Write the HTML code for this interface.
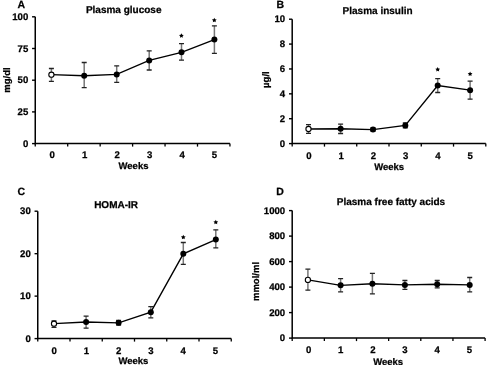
<!DOCTYPE html>
<html><head><meta charset="utf-8"><style>
html,body{margin:0;padding:0;background:#fff;width:487px;height:365px;overflow:hidden}
svg{display:block;will-change:transform}
text{text-rendering:geometricPrecision;font-family:"Liberation Sans", sans-serif;font-weight:bold;fill:#000;stroke:#000;stroke-width:0.25px}
.t{font-size:9.6px}
.w{font-size:9.5px}
.h{font-size:10px}
.l{font-size:10.5px}
.a{font-size:11.5px}
</style></head><body>
<svg width="487" height="365" viewBox="0 0 487 365">
<rect width="487" height="365" fill="#fff"/>
<path d="M35.25 16.8V143.6H229.95" fill="none" stroke="#000" stroke-width="1.5"/>
<line x1="32.05" y1="143.60" x2="35.25" y2="143.60" stroke="#000" stroke-width="1.4"/>
<text x="28.25" y="146.80" text-anchor="end" class="t">0</text>
<line x1="32.05" y1="111.90" x2="35.25" y2="111.90" stroke="#000" stroke-width="1.4"/>
<text x="28.25" y="115.10" text-anchor="end" class="t">25</text>
<line x1="32.05" y1="80.20" x2="35.25" y2="80.20" stroke="#000" stroke-width="1.4"/>
<text x="28.25" y="83.40" text-anchor="end" class="t">50</text>
<line x1="32.05" y1="48.50" x2="35.25" y2="48.50" stroke="#000" stroke-width="1.4"/>
<text x="28.25" y="51.70" text-anchor="end" class="t">75</text>
<line x1="32.05" y1="16.80" x2="35.25" y2="16.80" stroke="#000" stroke-width="1.4"/>
<text x="28.25" y="20.00" text-anchor="end" class="t">100</text>
<line x1="35.25" y1="143.6" x2="35.25" y2="146.6" stroke="#000" stroke-width="1.3"/>
<line x1="67.70" y1="143.6" x2="67.70" y2="146.6" stroke="#000" stroke-width="1.3"/>
<line x1="100.15" y1="143.6" x2="100.15" y2="146.6" stroke="#000" stroke-width="1.3"/>
<line x1="132.60" y1="143.6" x2="132.60" y2="146.6" stroke="#000" stroke-width="1.3"/>
<line x1="165.05" y1="143.6" x2="165.05" y2="146.6" stroke="#000" stroke-width="1.3"/>
<line x1="197.50" y1="143.6" x2="197.50" y2="146.6" stroke="#000" stroke-width="1.3"/>
<line x1="229.95" y1="143.6" x2="229.95" y2="146.6" stroke="#000" stroke-width="1.3"/>
<text x="52.27" y="157.8" text-anchor="middle" class="t">0</text>
<text x="84.72" y="157.8" text-anchor="middle" class="t">1</text>
<text x="117.17" y="157.8" text-anchor="middle" class="t">2</text>
<text x="149.62" y="157.8" text-anchor="middle" class="t">3</text>
<text x="182.07" y="157.8" text-anchor="middle" class="t">4</text>
<text x="214.52" y="157.8" text-anchor="middle" class="t">5</text>
<text x="133.5" y="169" text-anchor="middle" class="w">Weeks</text>
<text x="123.7" y="12.6" text-anchor="middle" class="h">Plasma glucose</text>
<text x="21.3" y="7.8" text-anchor="middle" class="l">A</text>
<text transform="translate(9.6 80) rotate(-90)" x="0" y="0" text-anchor="middle" class="w">mg/dl</text>
<path d="M51.4 68.5V81.3" stroke="#777" stroke-width="1.5"/>
<path d="M48.9 68.5H53.9M48.9 81.3H53.9" stroke="#222" stroke-width="1.3"/>
<path d="M84.2 62.5V87.6" stroke="#777" stroke-width="1.5"/>
<path d="M81.7 62.5H86.7M81.7 87.6H86.7" stroke="#222" stroke-width="1.3"/>
<path d="M116.7 65.8V82.4" stroke="#777" stroke-width="1.5"/>
<path d="M114.2 65.8H119.2M114.2 82.4H119.2" stroke="#222" stroke-width="1.3"/>
<path d="M149.2 50.8V70" stroke="#777" stroke-width="1.5"/>
<path d="M146.7 50.8H151.7M146.7 70H151.7" stroke="#222" stroke-width="1.3"/>
<path d="M181.5 43.7V60.2" stroke="#777" stroke-width="1.5"/>
<path d="M179.0 43.7H184.0M179.0 60.2H184.0" stroke="#222" stroke-width="1.3"/>
<path d="M214.4 25.8V53.4" stroke="#777" stroke-width="1.5"/>
<path d="M211.9 25.8H216.9M211.9 53.4H216.9" stroke="#222" stroke-width="1.3"/>
<path d="M51.4 74.7 L84.2 75.7 L116.7 74.4 L149.2 60.4 L181.5 52.3 L214.4 39.6" fill="none" stroke="#000" stroke-width="1.35"/>
<circle cx="51.4" cy="74.7" r="2.6" fill="#fff" stroke="#000" stroke-width="1.1"/>
<circle cx="84.2" cy="75.7" r="3" fill="#000"/>
<circle cx="116.7" cy="74.4" r="3" fill="#000"/>
<circle cx="149.2" cy="60.4" r="3" fill="#000"/>
<circle cx="181.5" cy="52.3" r="3" fill="#000"/>
<circle cx="214.4" cy="39.6" r="3" fill="#000"/>
<polygon points="181.40,33.30 182.13,34.79 183.78,35.03 182.59,36.19 182.87,37.82 181.40,37.05 179.93,37.82 180.21,36.19 179.02,35.03 180.67,34.79" fill="#000"/>
<polygon points="214.30,17.80 215.03,19.29 216.68,19.53 215.49,20.69 215.77,22.32 214.30,21.55 212.83,22.32 213.11,20.69 211.92,19.53 213.57,19.29" fill="#000"/>
<path d="M292.2 19.2V143.6H485.8" fill="none" stroke="#000" stroke-width="1.5"/>
<line x1="289.0" y1="143.60" x2="292.2" y2="143.60" stroke="#000" stroke-width="1.4"/>
<text x="285.2" y="146.80" text-anchor="end" class="t">0</text>
<line x1="289.0" y1="118.72" x2="292.2" y2="118.72" stroke="#000" stroke-width="1.4"/>
<text x="285.2" y="121.92" text-anchor="end" class="t">2</text>
<line x1="289.0" y1="93.84" x2="292.2" y2="93.84" stroke="#000" stroke-width="1.4"/>
<text x="285.2" y="97.04" text-anchor="end" class="t">4</text>
<line x1="289.0" y1="68.96" x2="292.2" y2="68.96" stroke="#000" stroke-width="1.4"/>
<text x="285.2" y="72.16" text-anchor="end" class="t">6</text>
<line x1="289.0" y1="44.08" x2="292.2" y2="44.08" stroke="#000" stroke-width="1.4"/>
<text x="285.2" y="47.28" text-anchor="end" class="t">8</text>
<line x1="289.0" y1="19.20" x2="292.2" y2="19.20" stroke="#000" stroke-width="1.4"/>
<text x="285.2" y="22.40" text-anchor="end" class="t">10</text>
<line x1="292.20" y1="143.6" x2="292.20" y2="146.6" stroke="#000" stroke-width="1.3"/>
<line x1="324.47" y1="143.6" x2="324.47" y2="146.6" stroke="#000" stroke-width="1.3"/>
<line x1="356.73" y1="143.6" x2="356.73" y2="146.6" stroke="#000" stroke-width="1.3"/>
<line x1="389.00" y1="143.6" x2="389.00" y2="146.6" stroke="#000" stroke-width="1.3"/>
<line x1="421.27" y1="143.6" x2="421.27" y2="146.6" stroke="#000" stroke-width="1.3"/>
<line x1="453.53" y1="143.6" x2="453.53" y2="146.6" stroke="#000" stroke-width="1.3"/>
<line x1="485.80" y1="143.6" x2="485.80" y2="146.6" stroke="#000" stroke-width="1.3"/>
<text x="308.93" y="158.5" text-anchor="middle" class="t">0</text>
<text x="341.20" y="158.5" text-anchor="middle" class="t">1</text>
<text x="373.47" y="158.5" text-anchor="middle" class="t">2</text>
<text x="405.73" y="158.5" text-anchor="middle" class="t">3</text>
<text x="438.00" y="158.5" text-anchor="middle" class="t">4</text>
<text x="470.27" y="158.5" text-anchor="middle" class="t">5</text>
<text x="389.2" y="169.5" text-anchor="middle" class="w">Weeks</text>
<text x="377.6" y="13.9" text-anchor="middle" class="h">Plasma insulin</text>
<text x="280.2" y="7.9" text-anchor="middle" class="l">B</text>
<text transform="translate(269.3 79.6) rotate(-90)" x="0" y="0" text-anchor="middle" class="w">µg/l</text>
<path d="M308.5 124.6V133.3" stroke="#777" stroke-width="1.5"/>
<path d="M306.0 124.6H311.0M306.0 133.3H311.0" stroke="#222" stroke-width="1.3"/>
<path d="M340.6 124.1V133.5" stroke="#777" stroke-width="1.5"/>
<path d="M338.1 124.1H343.1M338.1 133.5H343.1" stroke="#222" stroke-width="1.3"/>
<path d="M373 128V131" stroke="#777" stroke-width="1.5"/>
<path d="M370.5 128H375.5M370.5 131H375.5" stroke="#222" stroke-width="1.3"/>
<path d="M405.3 122.9V127.8" stroke="#777" stroke-width="1.5"/>
<path d="M402.8 122.9H407.8M402.8 127.8H407.8" stroke="#222" stroke-width="1.3"/>
<path d="M437.7 78.7V92.5" stroke="#777" stroke-width="1.5"/>
<path d="M435.2 78.7H440.2M435.2 92.5H440.2" stroke="#222" stroke-width="1.3"/>
<path d="M470.1 81.2V99.2" stroke="#777" stroke-width="1.5"/>
<path d="M467.6 81.2H472.6M467.6 99.2H472.6" stroke="#222" stroke-width="1.3"/>
<path d="M308.5 129 L340.6 128.8 L373 129.6 L405.3 125.4 L437.7 85.5 L470.1 90.2" fill="none" stroke="#000" stroke-width="1.35"/>
<circle cx="308.5" cy="129" r="2.6" fill="#fff" stroke="#000" stroke-width="1.1"/>
<circle cx="340.6" cy="128.8" r="3" fill="#000"/>
<circle cx="373" cy="129.6" r="3" fill="#000"/>
<circle cx="405.3" cy="125.4" r="3" fill="#000"/>
<circle cx="437.7" cy="85.5" r="3" fill="#000"/>
<circle cx="470.1" cy="90.2" r="3" fill="#000"/>
<polygon points="437.70,67.00 438.43,68.49 440.08,68.73 438.89,69.89 439.17,71.52 437.70,70.75 436.23,71.52 436.51,69.89 435.32,68.73 436.97,68.49" fill="#000"/>
<polygon points="470.10,71.50 470.83,72.99 472.48,73.23 471.29,74.39 471.57,76.02 470.10,75.25 468.63,76.02 468.91,74.39 467.72,73.23 469.37,72.99" fill="#000"/>
<path d="M37.75 211.2V338.6H231.25" fill="none" stroke="#000" stroke-width="1.5"/>
<line x1="34.55" y1="338.60" x2="37.75" y2="338.60" stroke="#000" stroke-width="1.4"/>
<text x="30.75" y="341.80" text-anchor="end" class="t">0</text>
<line x1="34.55" y1="296.13" x2="37.75" y2="296.13" stroke="#000" stroke-width="1.4"/>
<text x="30.75" y="299.33" text-anchor="end" class="t">10</text>
<line x1="34.55" y1="253.67" x2="37.75" y2="253.67" stroke="#000" stroke-width="1.4"/>
<text x="30.75" y="256.87" text-anchor="end" class="t">20</text>
<line x1="34.55" y1="211.20" x2="37.75" y2="211.20" stroke="#000" stroke-width="1.4"/>
<text x="30.75" y="214.40" text-anchor="end" class="t">30</text>
<line x1="37.75" y1="338.6" x2="37.75" y2="341.6" stroke="#000" stroke-width="1.3"/>
<line x1="70.00" y1="338.6" x2="70.00" y2="341.6" stroke="#000" stroke-width="1.3"/>
<line x1="102.25" y1="338.6" x2="102.25" y2="341.6" stroke="#000" stroke-width="1.3"/>
<line x1="134.50" y1="338.6" x2="134.50" y2="341.6" stroke="#000" stroke-width="1.3"/>
<line x1="166.75" y1="338.6" x2="166.75" y2="341.6" stroke="#000" stroke-width="1.3"/>
<line x1="199.00" y1="338.6" x2="199.00" y2="341.6" stroke="#000" stroke-width="1.3"/>
<line x1="231.25" y1="338.6" x2="231.25" y2="341.6" stroke="#000" stroke-width="1.3"/>
<text x="54.27" y="353.7" text-anchor="middle" class="t">0</text>
<text x="86.53" y="353.7" text-anchor="middle" class="t">1</text>
<text x="118.78" y="353.7" text-anchor="middle" class="t">2</text>
<text x="151.03" y="353.7" text-anchor="middle" class="t">3</text>
<text x="183.28" y="353.7" text-anchor="middle" class="t">4</text>
<text x="215.53" y="353.7" text-anchor="middle" class="t">5</text>
<text x="133.4" y="364" text-anchor="middle" class="w">Weeks</text>
<text x="116.1" y="208.1" text-anchor="middle" class="h">HOMA-IR</text>
<text x="21.4" y="195.1" text-anchor="middle" class="l">C</text>
<path d="M54 320.8V327.4" stroke="#777" stroke-width="1.5"/>
<path d="M51.5 320.8H56.5M51.5 327.4H56.5" stroke="#222" stroke-width="1.3"/>
<path d="M86.1 316.1V328.2" stroke="#777" stroke-width="1.5"/>
<path d="M83.6 316.1H88.6M83.6 328.2H88.6" stroke="#222" stroke-width="1.3"/>
<path d="M118.6 320.5V325" stroke="#777" stroke-width="1.5"/>
<path d="M116.1 320.5H121.1M116.1 325H121.1" stroke="#222" stroke-width="1.3"/>
<path d="M150.8 306.7V317.8" stroke="#777" stroke-width="1.5"/>
<path d="M148.3 306.7H153.3M148.3 317.8H153.3" stroke="#222" stroke-width="1.3"/>
<path d="M183.3 242.5V264.3" stroke="#777" stroke-width="1.5"/>
<path d="M180.8 242.5H185.8M180.8 264.3H185.8" stroke="#222" stroke-width="1.3"/>
<path d="M215.8 229.8V247.9" stroke="#777" stroke-width="1.5"/>
<path d="M213.3 229.8H218.3M213.3 247.9H218.3" stroke="#222" stroke-width="1.3"/>
<path d="M54 323.7 L86.1 322 L118.6 322.8 L150.8 312.2 L183.3 253.8 L215.8 239.6" fill="none" stroke="#000" stroke-width="1.35"/>
<circle cx="54" cy="323.7" r="2.6" fill="#fff" stroke="#000" stroke-width="1.1"/>
<circle cx="86.1" cy="322" r="3" fill="#000"/>
<circle cx="118.6" cy="322.8" r="3" fill="#000"/>
<circle cx="150.8" cy="312.2" r="3" fill="#000"/>
<circle cx="183.3" cy="253.8" r="3" fill="#000"/>
<circle cx="215.8" cy="239.6" r="3" fill="#000"/>
<polygon points="183.30,234.80 184.03,236.29 185.68,236.53 184.49,237.69 184.77,239.32 183.30,238.55 181.83,239.32 182.11,237.69 180.92,236.53 182.57,236.29" fill="#000"/>
<polygon points="215.80,219.80 216.53,221.29 218.18,221.53 216.99,222.69 217.27,224.32 215.80,223.55 214.33,224.32 214.61,222.69 213.42,221.53 215.07,221.29" fill="#000"/>
<path d="M292.2 210.6V338.1H485.1" fill="none" stroke="#000" stroke-width="1.5"/>
<line x1="289.0" y1="338.10" x2="292.2" y2="338.10" stroke="#000" stroke-width="1.4"/>
<text x="285.2" y="341.30" text-anchor="end" class="t">0</text>
<line x1="289.0" y1="312.60" x2="292.2" y2="312.60" stroke="#000" stroke-width="1.4"/>
<text x="285.2" y="315.80" text-anchor="end" class="t">200</text>
<line x1="289.0" y1="287.10" x2="292.2" y2="287.10" stroke="#000" stroke-width="1.4"/>
<text x="285.2" y="290.30" text-anchor="end" class="t">400</text>
<line x1="289.0" y1="261.60" x2="292.2" y2="261.60" stroke="#000" stroke-width="1.4"/>
<text x="285.2" y="264.80" text-anchor="end" class="t">600</text>
<line x1="289.0" y1="236.10" x2="292.2" y2="236.10" stroke="#000" stroke-width="1.4"/>
<text x="285.2" y="239.30" text-anchor="end" class="t">800</text>
<line x1="289.0" y1="210.60" x2="292.2" y2="210.60" stroke="#000" stroke-width="1.4"/>
<text x="285.2" y="213.80" text-anchor="end" class="t">1000</text>
<line x1="292.20" y1="338.1" x2="292.20" y2="341.1" stroke="#000" stroke-width="1.3"/>
<line x1="324.35" y1="338.1" x2="324.35" y2="341.1" stroke="#000" stroke-width="1.3"/>
<line x1="356.50" y1="338.1" x2="356.50" y2="341.1" stroke="#000" stroke-width="1.3"/>
<line x1="388.65" y1="338.1" x2="388.65" y2="341.1" stroke="#000" stroke-width="1.3"/>
<line x1="420.80" y1="338.1" x2="420.80" y2="341.1" stroke="#000" stroke-width="1.3"/>
<line x1="452.95" y1="338.1" x2="452.95" y2="341.1" stroke="#000" stroke-width="1.3"/>
<line x1="485.10" y1="338.1" x2="485.10" y2="341.1" stroke="#000" stroke-width="1.3"/>
<text x="308.57" y="352.5" text-anchor="middle" class="t">0</text>
<text x="340.73" y="352.5" text-anchor="middle" class="t">1</text>
<text x="372.88" y="352.5" text-anchor="middle" class="t">2</text>
<text x="405.03" y="352.5" text-anchor="middle" class="t">3</text>
<text x="437.18" y="352.5" text-anchor="middle" class="t">4</text>
<text x="469.33" y="352.5" text-anchor="middle" class="t">5</text>
<text x="388.1" y="364.5" text-anchor="middle" class="w">Weeks</text>
<text x="391" y="204.7" text-anchor="middle" class="h">Plasma free fatty acids</text>
<text x="280" y="194.5" text-anchor="middle" class="l">D</text>
<text transform="translate(259.4 281.5) rotate(-90)" x="0" y="0" text-anchor="middle" class="w">mmol/ml</text>
<path d="M307.9 269.2V290.2" stroke="#777" stroke-width="1.5"/>
<path d="M305.4 269.2H310.4M305.4 290.2H310.4" stroke="#222" stroke-width="1.3"/>
<path d="M340.6 278.7V291.8" stroke="#777" stroke-width="1.5"/>
<path d="M338.1 278.7H343.1M338.1 291.8H343.1" stroke="#222" stroke-width="1.3"/>
<path d="M372.4 273.3V293.9" stroke="#777" stroke-width="1.5"/>
<path d="M369.9 273.3H374.9M369.9 293.9H374.9" stroke="#222" stroke-width="1.3"/>
<path d="M404.9 280.5V289.3" stroke="#777" stroke-width="1.5"/>
<path d="M402.4 280.5H407.4M402.4 289.3H407.4" stroke="#222" stroke-width="1.3"/>
<path d="M437.2 280.5V287.9" stroke="#777" stroke-width="1.5"/>
<path d="M434.7 280.5H439.7M434.7 287.9H439.7" stroke="#222" stroke-width="1.3"/>
<path d="M469.7 277.5V291.9" stroke="#777" stroke-width="1.5"/>
<path d="M467.2 277.5H472.2M467.2 291.9H472.2" stroke="#222" stroke-width="1.3"/>
<path d="M307.9 279.9 L340.6 285.3 L372.4 283.8 L404.9 284.9 L437.2 284.3 L469.7 284.9" fill="none" stroke="#000" stroke-width="1.35"/>
<circle cx="307.9" cy="279.9" r="2.6" fill="#fff" stroke="#000" stroke-width="1.1"/>
<circle cx="340.6" cy="285.3" r="3" fill="#000"/>
<circle cx="372.4" cy="283.8" r="3" fill="#000"/>
<circle cx="404.9" cy="284.9" r="3" fill="#000"/>
<circle cx="437.2" cy="284.3" r="3" fill="#000"/>
<circle cx="469.7" cy="284.9" r="3" fill="#000"/>
</svg>
</body></html>
